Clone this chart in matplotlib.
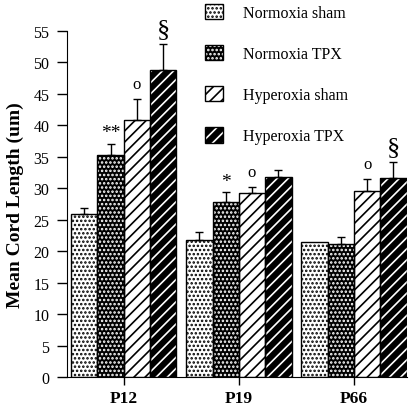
import numpy as np
import matplotlib.pyplot as plt
from matplotlib.patches import Patch

plt.rcParams['font.family'] = ['Liberation Serif', 'DejaVu Serif']
plt.rcParams['hatch.linewidth'] = 1.2

days = ["P12", "P19", "P66"]
groups = ["Normoxia sham", "Normoxia TPX", "Hyperoxia sham", "Hyperoxia TPX"]

means = {
    "Normoxia sham": [25.9, 21.7, 21.5],
    "Normoxia TPX": [35.2, 27.8, 21.1],
    "Hyperoxia sham": [40.8, 29.2, 29.5],
    "Hyperoxia TPX": [48.7, 31.7, 31.6],
}
errs = {
    "Normoxia sham": [0.9, 1.3, 0.0],
    "Normoxia TPX": [1.8, 1.5, 1.1],
    "Hyperoxia sham": [3.3, 1.0, 2.0],
    "Hyperoxia TPX": [4.1, 1.1, 2.5],
}
# significance marks above bars (group, day index, label)
marks = [
    ("Normoxia TPX", 0, "**"),
    ("Hyperoxia sham", 0, "o"),
    ("Hyperoxia TPX", 0, "§"),
    ("Normoxia TPX", 1, "*"),
    ("Hyperoxia sham", 1, "o"),
    ("Hyperoxia sham", 2, "o"),
    ("Hyperoxia TPX", 2, "§"),
]

styles = {
    "Normoxia sham": ("white", "black", "...."),
    "Normoxia TPX": ("black", "white", "...."),
    "Hyperoxia sham": ("white", "black", "///"),
    "Hyperoxia TPX": ("black", "white", "///"),
}

fig = plt.figure(figsize=(4.15, 4.10), dpi=100)
ax = fig.add_axes([0.161, 0.078, 0.82, 0.845])

x = np.arange(len(days))
w = 0.229
offsets = (np.arange(len(groups)) - 1.5) * w

handles = []
for g, off in zip(groups, offsets):
    fc, hc, hatch = styles[g]
    pos = x + off
    # solid face, then hatch layer in its own colour, then black outline
    ax.bar(pos, means[g], w, color=fc, linewidth=0, zorder=2)
    ax.bar(pos, means[g], w, facecolor="none", edgecolor=hc, hatch=hatch, linewidth=0, zorder=2.5)
    ax.bar(pos, means[g], w, fill=False, edgecolor="black", linewidth=1.0, zorder=3)
    e = np.array(errs[g])
    has = e > 0
    ax.errorbar(pos[has], np.array(means[g])[has], yerr=[np.zeros(has.sum()), e[has]],
                fmt="none", ecolor="black", elinewidth=1.0, capsize=3.2, capthick=1.0, zorder=4)
    handles.append((Patch(facecolor=fc, linewidth=0),
                    Patch(facecolor="none", edgecolor=hc, hatch=hatch, linewidth=0),
                    Patch(fill=False, edgecolor="black", linewidth=1.0)))

for g, i, lab in marks:
    gi = groups.index(g)
    top = means[g][i] + errs[g][i]
    size = {"**": 14, "*": 14, "o": 12, "§": 19}[lab]
    dy = {"**": 2, "*": 2, "o": 5, "§": 3}[lab]
    ax.annotate(lab, (x[i] + offsets[gi], top), xytext=(0, dy), textcoords="offset points",
                ha="center", va="bottom", fontsize=size)

ax.set_xlim(-0.495, 2.462)
ax.set_ylim(0, 55)
ax.set_yticks(np.arange(0, 56, 5))
ax.set_xticks(x)
ax.set_xticklabels(days, fontsize=12.5, fontweight="bold")
ax.tick_params(axis="y", labelsize=11.5, length=7, width=1, pad=5.5, direction="out")
ax.tick_params(axis="x", length=6, width=1, pad=3, direction="out")
ax.spines["top"].set_visible(False)
ax.spines["right"].set_visible(False)
ax.set_ylabel("Mean Cord Length (um)", fontsize=14, fontweight="bold", labelpad=7)

ax.legend(handles, groups, loc="upper left", bbox_to_anchor=(205 / 415, 1 - 5 / 410),
          bbox_transform=fig.transFigure, frameon=False, fontsize=11.5,
          handlelength=1.1, handleheight=1.1, handletextpad=1.3, labelspacing=1.5,
          borderpad=0, borderaxespad=0)

fig.savefig("out.png", dpi=100)
